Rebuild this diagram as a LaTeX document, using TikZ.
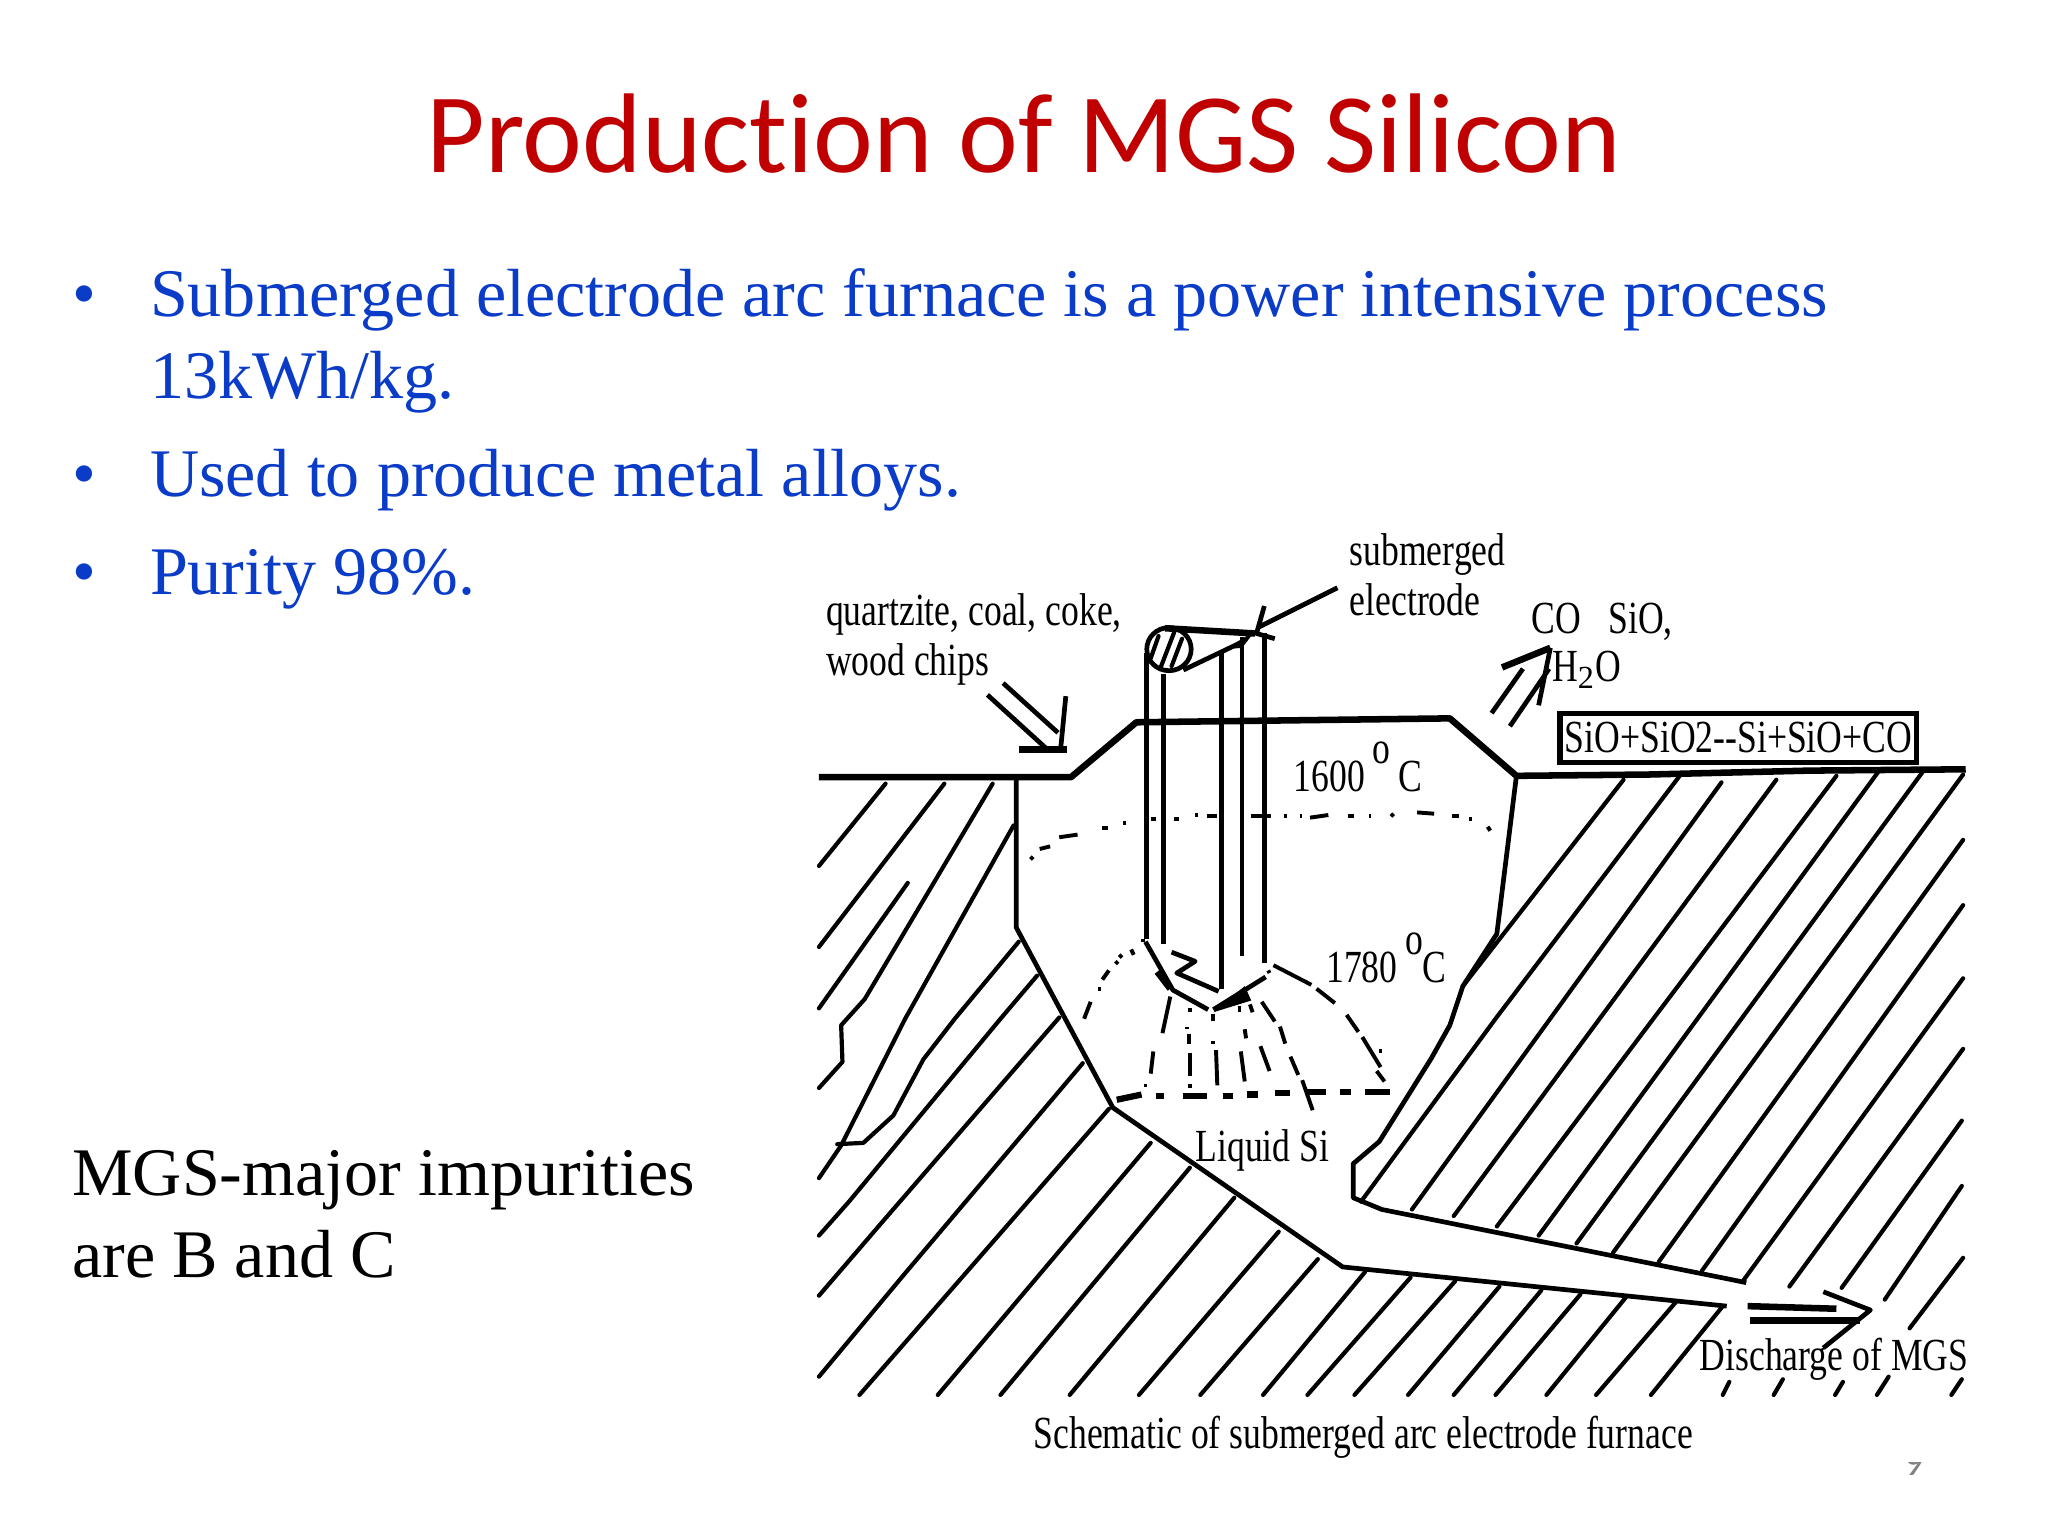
\documentclass[tikz,border=0pt]{standalone}
\usepackage{fontspec}
\setmainfont{Liberation Serif}
\newfontfamily\titlefont[Ligatures=NoCommon]{Carlito}
\newfontfamily\condfont[FakeStretch=0.775]{Liberation Serif}
\definecolor{titlered}{HTML}{C00000}
\definecolor{bulletblue}{HTML}{0A3CC8}
\tikzset{
 hatchline/.style={line width=1.6pt,line cap=round,line join=round},
 wallline/.style={line width=1.8pt,line join=round},
 thickline/.style={line width=2.5pt,line join=round},
 isoline/.style={line width=1.5pt},
 baseline dash/.style={line width=2.4pt},
 titletext/.style={inner sep=0pt,anchor=base,text=titlered,font=\titlefont\fontsize{43.4}{43.4}\selectfont},
 bodytext/.style={inner sep=0pt,anchor=base west,text=bulletblue,font=\fontsize{26.07}{26.07}\selectfont},
 blacktext/.style={inner sep=0pt,anchor=base west,text=black,font=\fontsize{26.07}{26.07}\selectfont},
 labeltext/.style={inner sep=0pt,anchor=base west,text=black,font=\condfont\fontsize{17.6}{17.6}\selectfont}
}
\begin{document}
\begin{tikzpicture}[x=0.5pt,y=-0.5pt]
\useasboundingbox (0,0) rectangle (1568,1176);
\fill[white] (0,0) rectangle (1568,1176);
% texts
\node[titletext] (title) at (784,132) {Production of MGS Silicon};
\node[bodytext] (b1) at (55,242) {•};
\node[bodytext] (t1) at (114.5,242) {Submerged electrode arc furnace is a power intensive process};
\node[bodytext] (t1b) at (114.5,305) {13kWh/kg.};
\node[bodytext] (b2) at (55,380) {•};
\node[bodytext] (t2) at (114.5,380) {Used to produce metal alloys.};
\node[bodytext] (b3) at (55,455) {•};
\node[bodytext] (t3) at (114.5,455) {Purity 98\%.};
\node[blacktext] (m1) at (55,915) {MGS-major impurities};
\node[blacktext] (m2) at (55,978) {are B and C};
% page number, mostly hidden by the picture
\node[inner sep=0pt,anchor=base,text=gray,font=\titlefont\fontsize{15}{15}\selectfont] (pg) at (1466,1130) {9};
\fill[white] (1440,1090) rectangle (1500,1119);
% left hatch
\foreach \p in {
 {(678,600)--(627,663)},
 {(723,600)--(627,725)},
 {(695,676)--(627,772)},
 {(760,600)--(662,765)--(644,785)--(645,813)--(627,833)},
 {(776,632)--(693,780)--(644,877)--(627,902)},
 {(780,721)--(731,780)--(707,811)--(684,854)--(661,875)--(641,876)},
 {(794,747)--(766,780)--(650,920)--(627,946)},
 {(811,779)--(676,935)--(627,992)},
 {(829,814)--(692,976)--(627,1054)},
 {(849,849)--(658,1068)},
 {(881,875)--(718,1068)},
 {(911,894)--(766,1068)},
 {(945,917)--(819,1068)},
 {(979,943)--(872,1068)},
 {(1009,964)--(919,1068)},
 {(1045,974)--(967,1068)},
 {(1080,978)--(1001,1068)},
 {(1114,981)--(1037,1068)},
 {(1148,985)--(1078,1068)},
 {(1180,988)--(1113,1068)},
 {(1210,991)--(1145,1068)},
 {(1245,993)--(1184,1068)},
 {(1283,997)--(1222,1068)},
 {(1319,1000)--(1264,1068)},
 {(1324,1058)--(1319,1068)},
 {(1365,1056)--(1358,1068)},
 {(1411,1058)--(1405,1068)},
 {(1446,1054)--(1437,1068)},
 {(1502,1056)--(1494,1068)}
}{\draw[hatchline] \p;}
% right hatch
\foreach \p in {
 {(1243,597)--(1120,755)},
 {(1286,594)--(1145,780)--(1042,920)},
 {(1318,599)--(1081,926)},
 {(1360,597)--(1113,931)},
 {(1406,594)--(1146,939)},
 {(1438,591)--(1178,946)},
 {(1472,591)--(1207,952)},
 {(1503,593)--(1235,959)},
 {(1503,643)--(1270,966)},
 {(1503,693)--(1303,973)},
 {(1503,749)--(1335,980)},
 {(1503,803)--(1370,985)},
 {(1502,858)--(1410,986)},
 {(1502,908)--(1443,995)},
 {(1503,963)--(1462,1017)}
}{\draw[hatchline] \p;}
% furnace outline
\draw[thickline] (627,595)--(820,595)--(870,553)--(1110,550)--(1161,594)--(1262,593)--(1385,590)--(1505,589);
\draw[wallline] (778,597)--(778,710)--(852,848)--(1028,970)--(1322,1000);
\draw[wallline] (1161,594)--(1146,715)--(1120,755)--(1110,785)--(1096,810)--(1056,874)--(1036,891)--(1036,917)--(1058,926)--(1337,982);
% electrode
\foreach \p in {
 {(878,500)--(878,719)},
 {(891,516)--(891,723)},
 {(935,500)--(935,757)},
 {(951,488)--(951,732)},
 {(968,485)--(968,737)}
}{\draw[wallline] \p;}
\draw[wallline] (895,497) ellipse [x radius=17,y radius=16.5];
\draw[hatchline] (887,487)--(881,504) (899,484)--(889,510) (905,489)--(897,510);
\draw[thickline] (892,481)--(961,485);
\draw[wallline] (906,513)--(950,492);
\fill (961,483)--(938,497)--(951,496)--cycle;
\draw[wallline] (1024,450)--(964,480) (968,464)--(962,485)--(976,489);
% feed arrow
\draw[wallline] (768,523)--(810,561) (756,532)--(801,573) (816,533)--(812,574);
\draw[thickline] (780,574)--(817,574);
% electrode tip
\draw[wallline] (877,721)--(898,758)--(925,773);
\draw[thickline] (886,744)--(896,757);
\draw[wallline] (897,729)--(915,736)--(901,745)--(933,759);
\draw[wallline] (929,773)--(969,748);
\fill (929,775)--(953,755)--(958,766)--cycle;
% 1600 isotherm and 1780 zone
\foreach \p in {
 {(789,658)--(791,656)},{(796,650)--(804,648)},{(811,641)--(825,639)},{(844,634)--(848,634)},
 {(860,630)--(862,630)},{(881,627)--(885,627)},{(899,627)--(903,627)},{(915,624)--(917,624)},
 {(924,625)--(932,625)},{(958,625)--(973,625)},{(983,625)--(985,625)},{(995,625)--(997,625)},
 {(1003,626)--(1017,624)},{(1032,625)--(1037,625)},{(1048,625)--(1050,625)},{(1065,625)--(1067,623)},
 {(1085,622)--(1098,623)},{(1112,625)--(1117,625)},{(1125,627)--(1127,627)},{(1139,633)--(1141,636)},
 {(875,719)--(875,721)},{(866,727)--(868,731)},{(857,733)--(859,731)},{(854,738)--(856,736)},
 {(844,750)--(849,743)},{(841,757)--(843,757)},{(830,780)--(835,767)},
 {(971,743)--(972,745)},{(975,739)--(1004,754)},{(1008,757)--(1022,768)},{(1031,777)--(1040,790)},
 {(1043,794)--(1057,817)},{(1054,820)--(1060,828)},{(1056,805)--(1058,805)},
 {(911,772)--(911,775)},{(949,770)--(949,775)},{(957,769)--(959,775)},
 {(896,763)--(890,791)},{(883,805)--(881,822)},{(877,830)--(877,832)},
 {(909,786)--(909,788)},{(910,792)--(910,799)},{(911,806)--(911,824)},{(911,830)--(911,833)},
 {(929,776)--(929,782)},{(929,797)--(929,799)},{(931,804)--(932,831)},
 {(953,788)--(954,795)},{(950,805)--(953,828)},
 {(966,767)--(976,782)},{(980,786)--(984,799)},{(965,801)--(972,820)},
 {(988,809)--(994,823)},{(997,827)--(1005,850)}
}{\draw[isoline] \p;}
\foreach \p in {
 {(855,842)--(874,838)},{(885,839)--(891,839)},{(906,839)--(924,839)},{(936,839)--(944,839)},
 {(955,838)--(963,838)},{(976,837)--(988,837)},{(1000,836)--(1015,836)},{(1026,836)--(1034,836)},
 {(1045,836)--(1064,836)}
}{\draw[baseline dash] \p;}
% gases
\draw[thickline] (1150,511)--(1187,496);
\draw[wallline] (1187,496)--(1178,540) (1186,512)--(1156,556) (1166,512)--(1142,546);
% discharge arrow
\draw[thickline] (1338,1000)--(1406,1002) (1340,1011)--(1424,1011);
\draw[wallline] (1396,989)--(1432,1003)--(1396,1032);
% reaction box
\node[labeltext,draw,line width=2pt,inner xsep=1.8pt,inner ysep=3.5pt,fill=white,anchor=center] (react) at (1331,565) {SiO+SiO2--Si+SiO+CO};
% labels
\node[labeltext] (q1) at (632,479) {quartzite, coal, coke,};
\node[labeltext] (q2) at (632,517) {wood chips};
\node[labeltext] (s1) at (1033,433) {submerged};
\node[labeltext] (s2) at (1033,471) {electrode};
\node[labeltext] (g1) at (1172,485) {CO\hspace{0.6em}SiO,};
\node[labeltext] (g2) at (1188,522) {H$_{\mathrm 2}$O};
\node[labeltext] (t16) at (990,606) {1600\,\raisebox{0.6em}{o}\,C};
\node[labeltext] (t17) at (1015,752) {1780\,\raisebox{0.6em}{o}C};
\node[labeltext] (ls) at (915,889) {Liquid Si};
\node[labeltext] (dis) at (1301,1049) {Discharge of MGS};
\node[labeltext] (cap) at (791,1109) {Schematic of submerged arc electrode furnace};
\end{tikzpicture}
\end{document}
